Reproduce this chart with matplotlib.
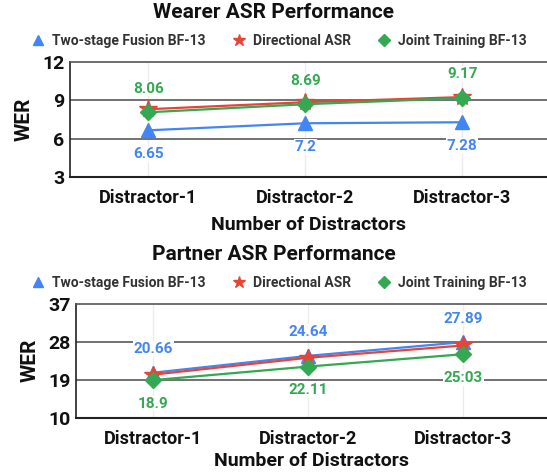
import matplotlib.pyplot as plt
from matplotlib.lines import Line2D

plt.rcParams['font.family'] = ['Roboto', 'DejaVu Sans']

categories = ['Distractor-1', 'Distractor-2', 'Distractor-3']

# Wearer
wearer_two_stage = [6.65, 7.2, 7.28]
wearer_directional = [8.3, 8.85, 9.25]
wearer_joint = [8.06, 8.69, 9.17]
wearer_two_stage_labels = ['6.65', '7.2', '7.28']
wearer_joint_labels = ['8.06', '8.69', '9.17']
wearer_yticks = [3, 6, 9, 12]

# Partner
partner_two_stage = [20.66, 24.64, 27.89]
partner_directional = [20.2, 24.2, 27.1]
partner_joint = [18.9, 22.11, 25.03]
partner_two_stage_labels = ['20.66', '24.64', '27.89']
partner_joint_labels = ['18.9', '22.11', '25:03']
partner_yticks = [10, 19, 28, 37]

BLUE = '#4285f4'
RED = '#ea4335'
GREEN = '#34a853'

fig = plt.figure(figsize=(5.47, 4.73), dpi=100)
fig.patch.set_facecolor('white')


def draw_panel(ax, two, direc, joint, two_lbl, joint_lbl, yticks, two_above, xlabel_pad):
    x = list(range(len(categories)))
    for xi in x:
        ax.axvline(xi, color='#ececec', linewidth=1, zorder=0)
    for yt in yticks[1:-1]:
        ax.axhline(yt, color='#666666', linewidth=1.3, zorder=1)
    ax.plot(x, two, color=BLUE, linewidth=1.6, marker='^', markersize=10, zorder=3)
    ax.plot(x, direc, color=RED, linewidth=1.6, marker='*', markersize=13, zorder=4)
    ax.plot(x, joint, color=GREEN, linewidth=1.6, marker='D', markersize=8, zorder=5)

    s_two = 1 if two_above else -1
    for xi, v, t in zip(x, two, two_lbl):
        ax.annotate(t, (xi, v), xytext=(0, 17 * s_two), textcoords='offset points',
                    ha='center', va='center', color=BLUE, fontsize=11, fontweight='bold',
                    bbox=dict(boxstyle='square,pad=0.05', fc='white', ec='none'), zorder=6)
    for xi, v, t in zip(x, joint, joint_lbl):
        ax.annotate(t, (xi, v), xytext=(0, -17 * s_two), textcoords='offset points',
                    ha='center', va='center', color=GREEN, fontsize=11, fontweight='bold',
                    bbox=dict(boxstyle='square,pad=0.05', fc='white', ec='none'), zorder=6)

    ax.set_xlim(-0.5, 2.54)
    ax.set_ylim(yticks[0], yticks[-1])
    ax.set_yticks(yticks)
    ax.set_xticks(x)
    ax.set_xticklabels(categories)
    ax.tick_params(axis='x', length=0, labelsize=13, pad=9)
    ax.tick_params(axis='y', length=0, labelsize=14, pad=4)
    for lab in ax.get_xticklabels() + ax.get_yticklabels():
        lab.set_fontweight('bold')
        lab.set_color('#111111')
    ax.spines['right'].set_visible(False)
    ax.spines['top'].set_color('#555555')
    ax.spines['top'].set_linewidth(1.2)
    ax.spines['left'].set_color('#222222')
    ax.spines['left'].set_linewidth(1.2)
    ax.spines['bottom'].set_color('#222222')
    ax.spines['bottom'].set_linewidth(1.5)
    ax.set_ylabel('WER', fontsize=15, fontweight='bold', labelpad=6, color='#111111')
    ax.set_xlabel('Number of Distractors', fontsize=14, fontweight='bold',
                  labelpad=xlabel_pad, color='#111111')


def add_legend(y):
    handles = [
        Line2D([], [], color=BLUE, marker='^', linestyle='none', markersize=7),
        Line2D([], [], color=RED, marker='*', linestyle='none', markersize=9),
        Line2D([], [], color=GREEN, marker='D', linestyle='none', markersize=6),
    ]
    labels = ['Two-stage Fusion BF-13', 'Directional ASR', 'Joint Training BF-13']
    leg = fig.legend(handles, labels, loc='center', bbox_to_anchor=(0.51, y), ncol=3,
                     frameon=False, fontsize=10, handlelength=1.0, handletextpad=0.5,
                     columnspacing=1.9)
    for t in leg.get_texts():
        t.set_fontweight('bold')
        t.set_color('#333333')


ax1 = fig.add_axes([0.128, 0.626, 0.872, 0.243])
draw_panel(ax1, wearer_two_stage, wearer_directional, wearer_joint,
           wearer_two_stage_labels, wearer_joint_labels, wearer_yticks,
           two_above=False, xlabel_pad=6)
fig.text(0.5, 1 - 12 / 473, 'Wearer ASR Performance', ha='center', va='center',
         fontsize=15, fontweight='bold', color='#111111')
add_legend(1 - 41 / 473)

ax2 = fig.add_axes([0.139, 0.117, 0.861, 0.241])
draw_panel(ax2, partner_two_stage, partner_directional, partner_joint,
           partner_two_stage_labels, partner_joint_labels, partner_yticks,
           two_above=True, xlabel_pad=3)
fig.text(0.5, 1 - 255 / 473, 'Partner ASR Performance', ha='center', va='center',
         fontsize=15, fontweight='bold', color='#111111')
add_legend(1 - 283 / 473)

fig.savefig('out.png', dpi=100, facecolor='white')
